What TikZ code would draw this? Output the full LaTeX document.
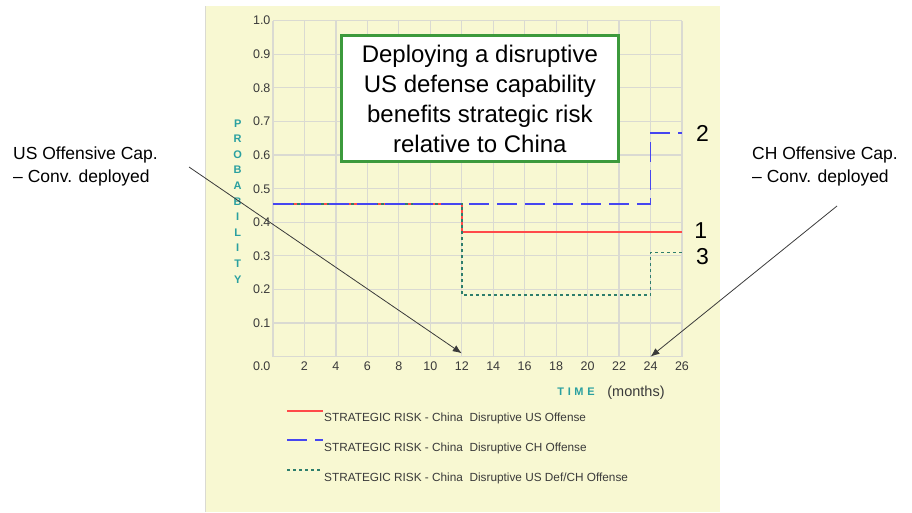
\documentclass[tikz,border=0pt]{standalone}
\usepackage{fontspec}
\setmainfont{Liberation Sans}
\usepackage{tikz}
\usetikzlibrary{arrows.meta}
\definecolor{chartbg}{HTML}{F8F8D2}
\definecolor{gridgray}{HTML}{DADAD2}
\definecolor{ticktext}{HTML}{3A3A3A}
\definecolor{axisteal}{HTML}{2AA0A0}
\definecolor{riskred}{HTML}{FF4A4A}
\definecolor{riskblue}{HTML}{4646F0}
\definecolor{riskgreen}{HTML}{2E7E6C}
\definecolor{boxgreen}{HTML}{3C9A3C}
\tikzset{
  ticklbl/.style={font=\fontsize{12.5}{13}\selectfont, text=ticktext, inner sep=0pt},
  notetext/.style={font=\fontsize{17.5}{23}\selectfont, align=left, inner sep=0pt},
  curvenum/.style={font=\fontsize{23}{24}\selectfont, inner sep=0pt},
  legendtext/.style={font=\fontsize{11.8}{13}\selectfont, text=ticktext, anchor=west, inner sep=0pt},
  usline/.style={color=riskred, line width=1.8pt},
  chline/.style={color=riskblue, line width=1.8pt, dash pattern=on 20pt off 8pt},
  defline/.style={color=riskgreen, line width=1.8pt, dash pattern=on 3pt off 3pt},
  pointer/.style={color=ticktext, line width=0.8pt, -{Latex[length=9pt,width=7pt]}}
}
\begin{document}
\begin{tikzpicture}[x=1pt, y=1pt]
\useasboundingbox (0,0) rectangle (912,512);
\fill[chartbg] (205,0) rectangle (720,506);
\draw[gridgray, line width=0.8pt] (205,0) -- (205,506);
%%%%% Chart %%%%%
\begin{scope}[shift={(273pt,155.3pt)}, x=15.73pt, y=336pt]
\foreach \i in {0,2,...,26}{
\draw[gridgray, line width=1.2pt] (\i,0)--(\i,1);
}
\foreach \j in {0,0.1,...,1.05}{
\draw[gridgray, line width=1.2pt] (0,\j)--(26,\j);
}
\foreach \j/\lbl in {0.1/0.1,0.2/0.2,0.3/0.3,0.4/0.4,0.5/0.5,0.6/0.6,0.7/0.7,0.8/0.8,0.9/0.9,1.0/1.0}{
\node[ticklbl, anchor=east] at (-0.15,\j) {\lbl};
}
\node[ticklbl, anchor=east] at (-0.15,-0.027) {0.0};
\foreach \i in {2,4,...,26}{
\node[ticklbl] at (\i,-0.027) {\i};
}
%%%%% Curves %%%%%
\draw[usline] (0,0.454)--(12,0.454)--(12,0.37)--(26,0.37);
\draw[defline] (0,0.454)--(12,0.454)--(12,0.183)--(24,0.183)--(24,0.31)--(26,0.31);
\draw[chline] (0,0.454)--(24,0.454)--(24,0.665)--(26,0.665);
\node[curvenum] (num2) at (27.3,0.663) {2};
\node[curvenum] (num1) at (27.2,0.375) {1};
\node[curvenum] (num3) at (27.3,0.298) {3};
\coordinate (hit12) at (12,0.01);
\coordinate (hit24) at (24,0.0);
%%%%% Title %%%%%
\node[draw=boxgreen, line width=3pt, fill=white, minimum width=277pt, minimum height=126pt,
      align=center, font=\fontsize{24}{30}\selectfont] (title) at (13.15,0.768)
  {Deploying a disruptive\\US defense capability\\benefits strategic risk\\relative to China};
\end{scope}
%%%%% Axis labels %%%%%
\node[font=\bfseries\fontsize{11}{15.6}\selectfont, text=axisteal, align=center, inner sep=0pt] (ylbl) at (237.7,310.7)
  {P\\R\\O\\B\\A\\B\\I\\L\\I\\T\\Y};
\node[font=\bfseries\fontsize{11}{12}\selectfont, text=axisteal, inner sep=0pt] (xlbl) at (576,120) {T\,\,I\,\,M\,\,E};
\node[ticklbl, font=\fontsize{14.5}{15}\selectfont] (units) at (636,119) {(months)};
%%%%% Legend %%%%%
\draw[usline] (287,101.3)--(323,101.3);
\draw[chline] (287,72)--(323,72);
\draw[defline] (287,42)--(323,42);
\node[legendtext] (leg1) at (324,94) {STRATEGIC RISK - China\ \ Disruptive US Offense};
\node[legendtext] (leg2) at (324,64) {STRATEGIC RISK - China\ \ Disruptive CH Offense};
\node[legendtext] (leg3) at (324,34) {STRATEGIC RISK - China\ \ Disruptive US Def/CH Offense};
%%%%% Notes %%%%%
\node[notetext, anchor=north west] (usnote) at (13,365) {US Offensive Cap.\\-- Conv. deployed};
\node[notetext, anchor=north west] (chnote) at (752,365) {CH Offensive Cap.\\-- Conv. deployed};
\coordinate (usfoot) at (189,345);
\coordinate (chfoot) at (837,306);
\draw[pointer] (usfoot)--(hit12);
\draw[pointer] (chfoot)--(hit24);
\end{tikzpicture}
\end{document}
